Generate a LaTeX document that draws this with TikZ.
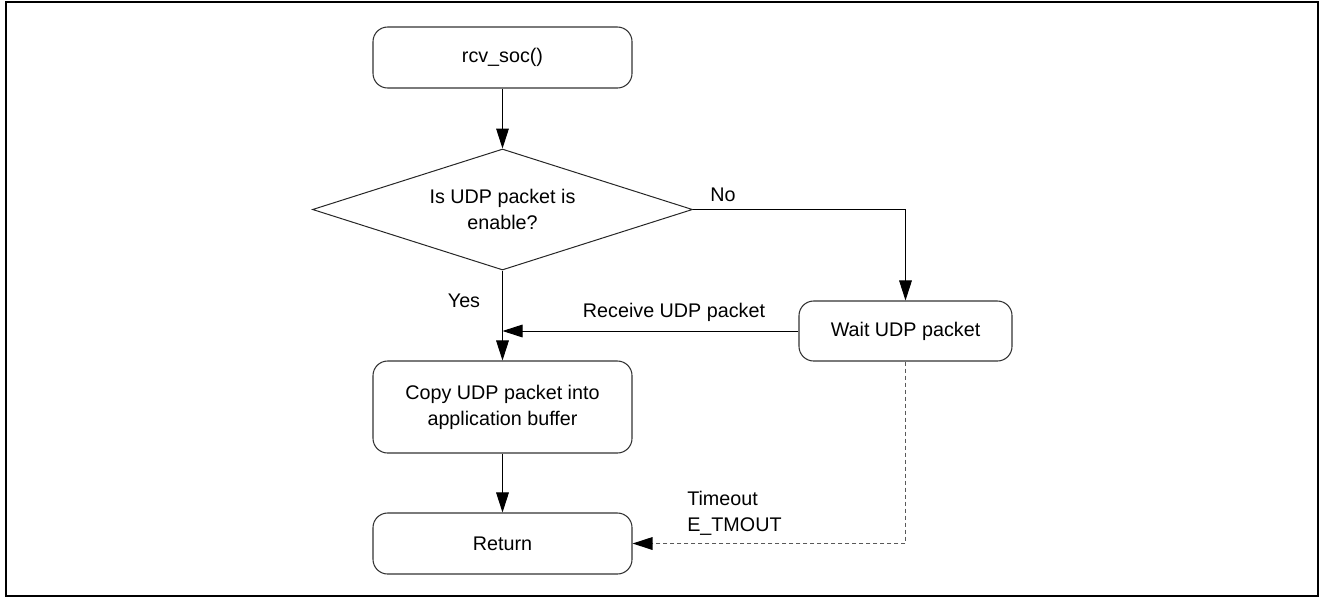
\documentclass[tikz,border=0pt]{standalone}
\usepackage{fontspec}
\setmainfont{Liberation Sans}
\usetikzlibrary{arrows.meta,shapes.geometric}
\begin{document}
\begin{tikzpicture}[x=0.75pt,y=-0.75pt,
  font=\fontsize{14.8pt}{19.5pt}\selectfont,
  proc/.style={draw=black!80, line width=0.8pt, rounded corners=11pt,
    align=center, inner sep=0pt, minimum width=194.25pt},
  decision/.style={draw=black!85, line width=0.75pt, diamond, aspect=3.14,
    minimum width=285pt, minimum height=90.75pt, inner sep=0pt, align=center},
  arr/.style={draw=black, line width=0.75pt,
    -{Triangle[length=15pt,width=9.5pt]}},
  dasharr/.style={draw=black!65, line width=0.9pt, dash pattern=on 3pt off 2.25pt,
    -{Triangle[length=15pt,width=9.5pt,fill=black,color=black]}},
  lbl/.style={inner sep=0pt}]
% frame
\useasboundingbox (0,0) rectangle (1320,597);
\draw[line width=1.5pt] (6,2) rectangle (1318,595.5);

% steps
\node[proc, minimum height=45.75pt] (start) at (502.5,57.5) {rcv\_soc()};
\node[decision] (dec) at (502.5,209.5) {Is UDP packet is\\enable?};
\node[proc, minimum width=159.75pt, minimum height=45pt] (wait) at (905.5,331) {Wait UDP packet};
\node[proc, minimum height=69pt] (copy) at (502.5,407) {Copy UDP packet into\\application buffer};
\node[proc, minimum height=45.75pt] (ret) at (502.5,543.5) {Return};
\coordinate (join) at (502.5,331);

% flow
\draw[arr] (start) -- (dec);
\draw[arr] (dec.east) -| (wait.north);
\draw[arr] (dec) -- (copy);
\draw[arr] (wait.west) -- (join);
\draw[arr] (copy) -- (ret);
\draw[dasharr] (wait.south) |- (ret.east);

% labels
\node[lbl] (no) at (723,195) {No};
\node[lbl] (yes) at (464,301) {Yes};
\node[lbl] (recv) at (674,312) {Receive UDP packet};
\node[lbl, anchor=west, align=left] (tmo) at (687,513) {Timeout\\E\_TMOUT};
\end{tikzpicture}
\end{document}
